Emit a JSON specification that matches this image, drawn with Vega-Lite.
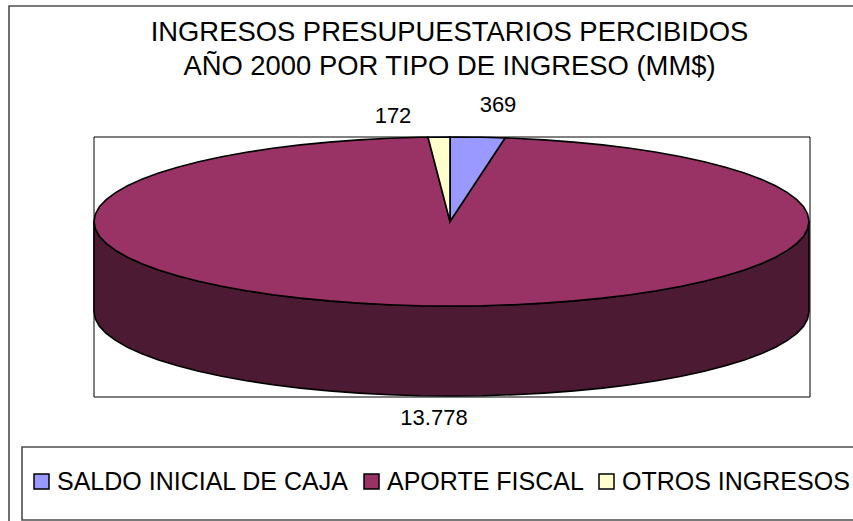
{
"$schema":"https://vega.github.io/schema/vega-lite/v6.json",
"width":853,"height":521,"padding":0,"autosize":{"type":"none"},
"background":"white",
"view":{"stroke":null},
"title":{"text":["INGRESOS PRESUPUESTARIOS PERCIBIDOS","AÑO 2000 POR TIPO DE INGRESO (MM$)"],"font":"Liberation Sans","fontSize":27.4,"fontWeight":"normal","color":"#000000","anchor":"middle","dx":23,"offset":-80,"lineHeight":34,"baseline":"top","frame":"group"},
"projection":{"type":"identity","reflectY":true,"scale":1,"translate":[451.5,221.5]},
"layer":[
{"data":{"values":[
{"type":"Feature","properties":{"nombre":"marco"},"geometry":{"type":"LineString","coordinates":[[-442.5,-320],[-442.5,215.5],[420,215.5]]}},
{"type":"Feature","properties":{"nombre":"leyenda"},"geometry":{"type":"LineString","coordinates":[[420,-225.5],[-429.5,-225.5],[-429.5,-298.5],[420,-298.5]]}}
]},"mark":{"type":"geoshape","fill":"none","stroke":"#4d4d4d","strokeWidth":1.6},"encoding":{}},
{"data":{"values":[
{"type":"Feature","properties":{"nombre":"area"},"geometry":{"type":"LineString","coordinates":[[-357.5,-175.5],[-357.5,84.5],[358.5,84.5],[358.5,-175.5],[-357.5,-175.5]]}}
]},"mark":{"type":"geoshape","fill":"none","stroke":"#000000","strokeWidth":1},"encoding":{}},
{"data":{"values":[
{"type":"Feature","properties":{"nombre":"lateral"},"geometry":{"type":"Polygon","coordinates":[[[357.5,0],[356.1,-7.4],[352.1,-14.7],[345.3,-21.9],[335.9,-28.9],[324,-35.7],[309.6,-42.3],[292.9,-48.5],[273.9,-54.3],[252.8,-59.8],[229.8,-64.7],[205.1,-69.2],[178.8,-73.2],[151.1,-76.6],[122.3,-79.4],[92.5,-81.6],[62.1,-83.2],[31.2,-84.2],[0,-84.5],[-31.2,-84.2],[-62.1,-83.2],[-92.5,-81.6],[-122.3,-79.4],[-151.1,-76.6],[-178.8,-73.2],[-205.1,-69.2],[-229.8,-64.7],[-252.8,-59.8],[-273.9,-54.3],[-292.9,-48.5],[-309.6,-42.3],[-324,-35.7],[-335.9,-28.9],[-345.3,-21.9],[-352.1,-14.7],[-356.1,-7.4],[-357.5,0],[-357.5,-90],[-356.1,-97.4],[-352.1,-104.7],[-345.3,-111.9],[-335.9,-118.9],[-324,-125.7],[-309.6,-132.3],[-292.9,-138.5],[-273.9,-144.3],[-252.8,-149.8],[-229.8,-154.7],[-205.1,-159.2],[-178.8,-163.2],[-151.1,-166.6],[-122.3,-169.4],[-92.5,-171.6],[-62.1,-173.2],[-31.2,-174.2],[0,-174.5],[31.2,-174.2],[62.1,-173.2],[92.5,-171.6],[122.3,-169.4],[151.1,-166.6],[178.8,-163.2],[205.1,-159.2],[229.8,-154.7],[252.8,-149.8],[273.9,-144.3],[292.9,-138.5],[309.6,-132.3],[324,-125.7],[335.9,-118.9],[345.3,-111.9],[352.1,-104.7],[356.1,-97.4],[357.5,-90],[357.5,0]]]}}
]},"mark":{"type":"geoshape","fill":"#4d1a33","stroke":"#000000","strokeWidth":1.6},"encoding":{}},
{"data":{"values":[
{"type":"Feature","properties":{"tipo":"APORTE FISCAL","valor":13778},"geometry":{"type":"Polygon","coordinates":[[[-1.5,0],[53.5,83.5],[62.1,83.2],[92.5,81.6],[122.3,79.4],[151.1,76.6],[178.8,73.2],[205.1,69.2],[229.8,64.7],[252.8,59.8],[273.9,54.3],[292.9,48.5],[309.6,42.3],[324,35.7],[335.9,28.9],[345.3,21.9],[352.1,14.7],[356.1,7.4],[357.5,0],[356.1,-7.4],[352.1,-14.7],[345.3,-21.9],[335.9,-28.9],[324,-35.7],[309.6,-42.3],[292.9,-48.5],[273.9,-54.3],[252.8,-59.8],[229.8,-64.7],[205.1,-69.2],[178.8,-73.2],[151.1,-76.6],[122.3,-79.4],[92.5,-81.6],[62.1,-83.2],[31.2,-84.2],[0,-84.5],[-31.2,-84.2],[-62.1,-83.2],[-92.5,-81.6],[-122.3,-79.4],[-151.1,-76.6],[-178.8,-73.2],[-205.1,-69.2],[-229.8,-64.7],[-252.8,-59.8],[-273.9,-54.3],[-292.9,-48.5],[-309.6,-42.3],[-324,-35.7],[-335.9,-28.9],[-345.3,-21.9],[-352.1,-14.7],[-356.1,-7.4],[-357.5,0],[-356.1,7.4],[-352.1,14.7],[-345.3,21.9],[-335.9,28.9],[-324,35.7],[-309.6,42.3],[-292.9,48.5],[-273.9,54.3],[-252.8,59.8],[-229.8,64.7],[-205.1,69.2],[-178.8,73.2],[-151.1,76.6],[-122.3,79.4],[-92.5,81.6],[-62.1,83.2],[-31.2,84.2],[-23.5,84.3],[-1.5,0]]]}},
{"type":"Feature","properties":{"tipo":"SALDO INICIAL DE CAJA","valor":369},"geometry":{"type":"Polygon","coordinates":[[[-1.5,0],[-1.5,84.5],[31.2,84.2],[53.5,83.5],[-1.5,0]]]}},
{"type":"Feature","properties":{"tipo":"OTROS INGRESOS","valor":172},"geometry":{"type":"Polygon","coordinates":[[[-1.5,0],[-23.5,84.3],[-1.5,84.5],[-1.5,0]]]}}
]},"mark":{"type":"geoshape","stroke":"#000000","strokeWidth":1.6},
"encoding":{"color":{"field":"properties.tipo","type":"nominal","scale":{"domain":["SALDO INICIAL DE CAJA","APORTE FISCAL","OTROS INGRESOS"],"range":["#9999ff","#993366","#ffffcc"]},
"legend":{"title":null,"orient":"none","legendX":29,"legendY":469,"direction":"horizontal","columns":3,"symbolType":"square","symbolSize":225,"symbolStrokeColor":"#000000","symbolStrokeWidth":1.5,"symbolOpacity":1,"labelFont":"Liberation Sans","labelFontSize":25,"labelColor":"#000000","labelLimit":500,"labelOffset":3,"columnPadding":10,"padding":0,"gridAlign":"none"}}}},
{"data":{"values":[
{"tipo":"SALDO INICIAL DE CAJA","etiqueta":"369","lon":46.5,"lat":116.5},
{"tipo":"OTROS INGRESOS","etiqueta":"172","lon":-58.5,"lat":105.5},
{"tipo":"APORTE FISCAL","etiqueta":"13.778","lon":-17.5,"lat":-196.5}
]},"mark":{"type":"text","font":"Liberation Sans","fontSize":22,"color":"#000000","align":"center","baseline":"middle"},
"encoding":{"longitude":{"field":"lon","type":"quantitative"},"latitude":{"field":"lat","type":"quantitative"},"text":{"field":"etiqueta"}}}
]
}
